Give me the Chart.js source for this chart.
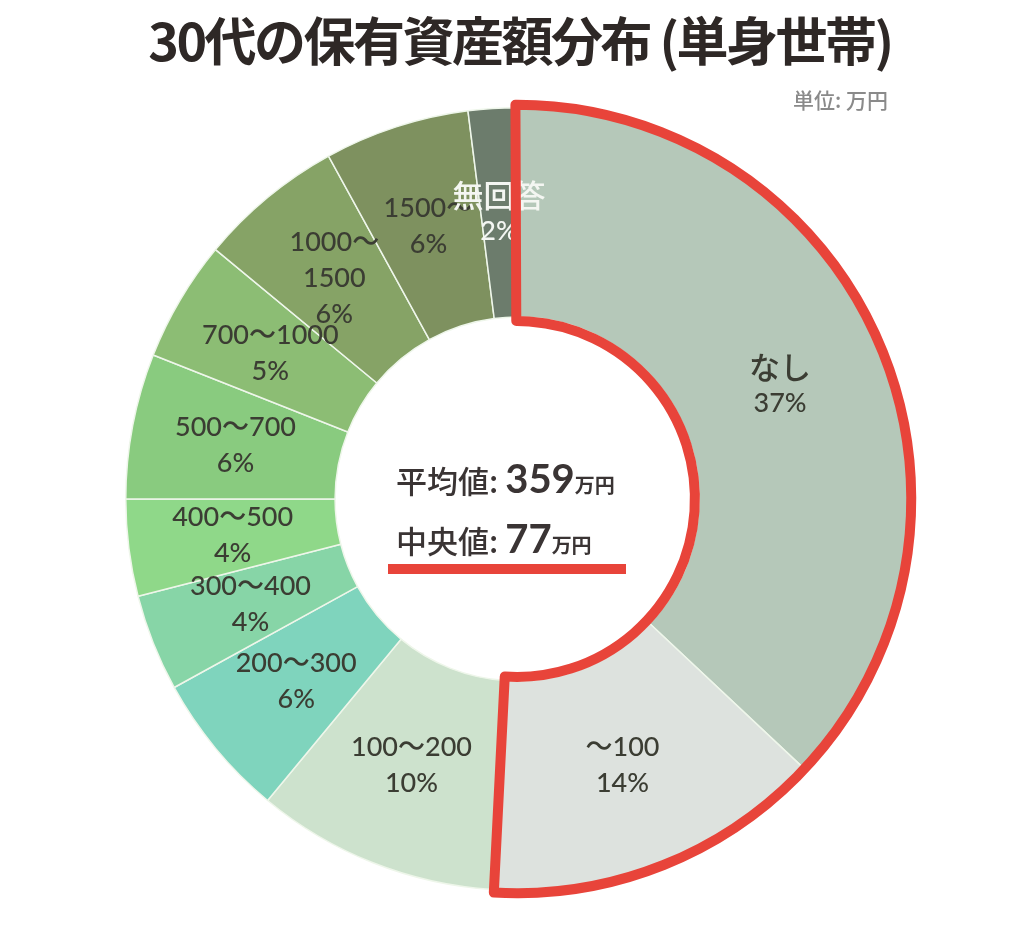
<!DOCTYPE html>
<html lang="ja">
<head>
<meta charset="utf-8">
<script src="https://cdn.jsdelivr.net/npm/chart.js@4/dist/chart.umd.min.js"></script>
<style>
  html, body { margin: 0; padding: 0; background: #ffffff; }
  #wrap { position: relative; width: 1024px; height: 936px; overflow: hidden; }
  #c { position: absolute; left: 0; top: 0; }
  .title { position: absolute; left: 0; width: 1040px; top: 4px; text-align: center;
    font-family: "Noto Sans CJK JP", sans-serif; font-weight: 700; font-size: 52px;
    color: #2e2826; letter-spacing: -2.5px; line-height: 70px; }
  .unit { position: absolute; right: 136px; top: 84px; font-family: "Noto Sans CJK JP", sans-serif;
    font-size: 21px; font-weight: 500; color: #8a8a8a; }
  .center { position: absolute; left: 396px; font-family: "Noto Sans CJK JP", sans-serif;
    color: #3a3434; font-size: 31px; font-weight: 500; line-height: 40px; white-space: nowrap; }
  .center .num { font-family: Lato, "Noto Sans CJK JP", sans-serif; font-weight: 700; font-size: 40px; }
  .center small { font-size: 20px; font-weight: 700; }
  .uline { position: absolute; left: 388px; top: 564px; width: 238px; height: 10px; background: #e8443a; }
</style>
</head>
<body>
<div id="wrap">
  <canvas id="c" width="1024" height="936"></canvas>
  <div class="title">30代の保有資産額分布 (単身世帯)</div>
  <div class="unit">単位: 万円</div>
  <div class="center" style="top:458px">平均値: <span class="num">359</span><small>万円</small></div>
  <div class="center" style="top:518px">中央値: <span class="num">77</span><small>万円</small></div>
  <div class="uline"></div>
</div>
<script>
// ---- data ----
const categories = ['なし', '～100', '100～200', '200～300', '300～400', '400～500', '500～700', '700～1000', '1000～1500', '1500～', '無回答'];
const sliceLabels = [
  ['なし'], ['～100'], ['100～200'], ['200～300'], ['300～400'], ['400～500'],
  ['500～700'], ['700～1000'], ['1000～', '1500'], ['1500～'], ['無回答']
];
const shares = [37, 14, 10, 6, 4, 4, 6, 5, 6, 6, 2];
const colors = ['#b5c8b9', '#dde2de', '#cde2cd', '#7fd4bd', '#87d5a7', '#8fd889', '#89cb7f', '#8cbd74', '#86a366', '#7e915f', '#6c7c6c'];
const labelColors = ['#3b3d33', '#3b3d33', '#3b3d33', '#3b3d33', '#3b3d33', '#3b3d33', '#3b3d33', '#3b3d33', '#3b3d33', '#3b3d33', '#f4f6f2'];
const highlighted = [0, 1];

const labelPlugin = {
  id: 'sliceLabels',
  afterDatasetsDraw(chart) {
    const ctx = chart.ctx;
    const meta = chart.getDatasetMeta(0);
    ctx.save();
    ctx.textAlign = 'center';
    ctx.textBaseline = 'middle';
    meta.data.forEach((arc, i) => {
      const p = arc.getProps(['x', 'y', 'startAngle', 'endAngle', 'innerRadius', 'outerRadius'], true);
      const mid = (p.startAngle + p.endAngle) / 2;
      const r = (p.innerRadius + p.outerRadius) / 2;
      const cx = p.x + Math.cos(mid) * r;
      const cy = p.y + Math.sin(mid) * r;
      const lines = sliceLabels[i].concat([shares[i] + '%']);
      const lh = 36;
      const y0 = cy - (lines.length - 1) * lh / 2;
      ctx.fillStyle = labelColors[i];
      lines.forEach((t, k) => {
        const isJa = /[ぁ-んァ-ン一-龥]/.test(t);
        ctx.font = (isJa ? '500 31px "Noto Sans CJK JP"' : '500 27px Lato, "Noto Sans CJK JP", sans-serif');
        ctx.fillText(t, cx, y0 + k * lh);
      });
    });
    ctx.restore();
  },
  afterDraw(chart) {
    const ctx = chart.ctx;
    const meta = chart.getDatasetMeta(0);
    const a0 = meta.data[highlighted[0]].getProps(['x', 'y', 'startAngle', 'innerRadius', 'outerRadius'], true);
    const a1 = meta.data[highlighted[highlighted.length - 1]].getProps(['endAngle'], true);
    const R = a0.outerRadius + 3, r = a0.innerRadius - 4;
    const s = a0.startAngle - 0.004, e = a1.endAngle - 0.004;
    ctx.save();
    ctx.strokeStyle = '#e8443a';
    ctx.lineWidth = 10;
    ctx.lineJoin = 'round';
    ctx.lineCap = 'round';
    ctx.beginPath();
    ctx.arc(a0.x, a0.y, R, s, e, false);
    ctx.lineTo(a0.x + Math.cos(e + 0.01) * r, a0.y + Math.sin(e + 0.01) * r);
    ctx.arc(a0.x, a0.y, r, e + 0.01, s, true);
    ctx.closePath();
    ctx.stroke();
    ctx.restore();
  }
};

new Chart(document.getElementById('c'), {
  type: 'doughnut',
  data: {
    labels: categories,
    datasets: [{
      data: shares,
      backgroundColor: colors,
      borderColor: '#eef6ea',
      borderWidth: 1.5
    }]
  },
  options: {
    responsive: false,
    animation: false,
    cutout: '46.5%',
    layout: { padding: { left: 125, right: 115, top: 107, bottom: 45 } },
    plugins: { legend: { display: false }, tooltip: { enabled: false } }
  },
  plugins: [labelPlugin]
});
</script>
</body>
</html>
